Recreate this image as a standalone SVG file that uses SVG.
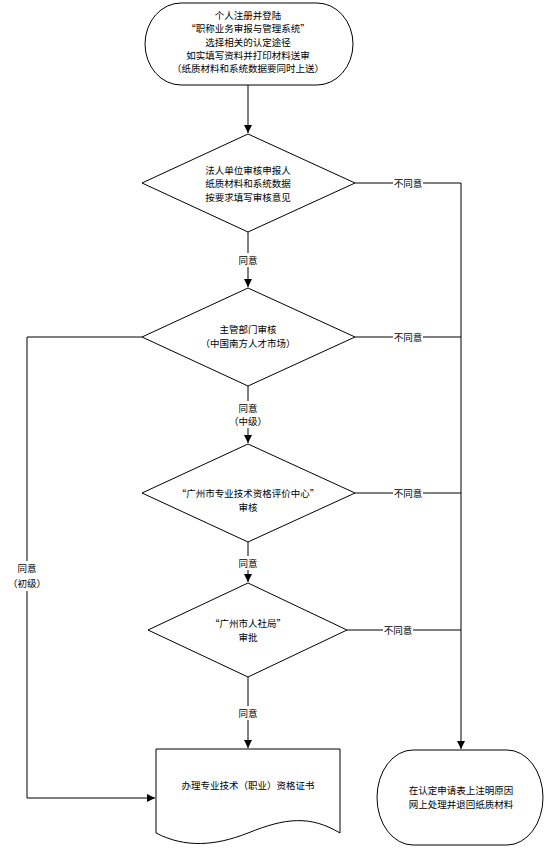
<svg xmlns="http://www.w3.org/2000/svg" width="554" height="853" viewBox="0 0 554 853">
<style>
.s{fill:#fff;stroke:#000;stroke-width:1}
.c{fill:none;stroke:#000;stroke-width:1}
text{font-family:"Noto Sans CJK SC","Noto Sans",sans-serif;font-size:9.5px;fill:#000;text-anchor:middle;dominant-baseline:central}
.lb{fill:#fff;stroke:none}
</style>
<defs>
<marker id="ah" markerWidth="8" markerHeight="8" refX="8" refY="4" orient="auto" markerUnits="userSpaceOnUse">
<path d="M0,0 L8,4 L0,8 Z" fill="#000"/>
</marker>
</defs>
<rect width="554" height="853" fill="#fff"/>
<g id="connectors">
<path class="c" d="M248,85 V133" marker-end="url(#ah)"/>
<path class="c" d="M248,232 V287" marker-end="url(#ah)"/>
<path class="c" d="M248,386 V443" marker-end="url(#ah)"/>
<path class="c" d="M248,542 V582" marker-end="url(#ah)"/>
<path class="c" d="M248,677 V748" marker-end="url(#ah)"/>
<path class="c" d="M142,337 H27 V798 H155" marker-end="url(#ah)"/>
<path class="c" d="M355,183 H461 V749" marker-end="url(#ah)"/>
<path class="c" d="M355,337 H461"/>
<path class="c" d="M355,493 H461"/>
<path class="c" d="M347,630 H461"/>
<rect class="lb" x="236" y="253" width="24" height="14"/>
<text x="248" y="260">同意</text>
<rect class="lb" x="228" y="401" width="40" height="27"/>
<text x="248" y="408">同意</text>
<text x="248" y="421">（中级）</text>
<rect class="lb" x="236" y="556" width="24" height="14"/>
<text x="248" y="563">同意</text>
<rect class="lb" x="236" y="706" width="24" height="14"/>
<text x="248" y="713">同意</text>
<rect class="lb" x="7" y="561" width="40" height="30"/>
<text x="27" y="568">同意</text>
<text x="27" y="583">（初级）</text>
<rect class="lb" x="393" y="176" width="30" height="14"/>
<text x="408" y="183">不同意</text>
<rect class="lb" x="393" y="330" width="30" height="14"/>
<text x="408" y="337">不同意</text>
<rect class="lb" x="393" y="486" width="30" height="14"/>
<text x="408" y="493">不同意</text>
<rect class="lb" x="383" y="623" width="30" height="14"/>
<text x="398" y="630">不同意</text>
</g>
<g id="start">
<path class="s" d="M181,3 H317 A36,41 0 0 1 317,85 H181 A36,41 0 0 1 181,3 Z"/>
<text x="248" y="15">个人注册并登陆</text>
<text x="248" y="28">“职称业务审报与管理系统”</text>
<text x="248" y="42">选择相关的认定途径</text>
<text x="248" y="55">如实填写资料并打印材料送审</text>
<text x="248" y="68">（纸质材料和系统数据要同时上送）</text>
</g>
<g id="d1">
<polygon class="s" points="248,134 355,183 248,232 142,183"/>
<text x="248" y="170">法人单位审核申报人</text>
<text x="248" y="183">纸质材料和系统数据</text>
<text x="248" y="197">按要求填写审核意见</text>
</g>
<g id="d2">
<polygon class="s" points="248,288 355,337 248,386 142,337"/>
<text x="248" y="329">主管部门审核</text>
<text x="248" y="343">（中国南方人才市场）</text>
</g>
<g id="d3">
<polygon class="s" points="248,444 355,493 248,542 142,493"/>
<text x="248" y="493">“广州市专业技术资格评价中心”</text>
<text x="248" y="507">审核</text>
</g>
<g id="d4">
<polygon class="s" points="248,583 347,630 248,677 148,630"/>
<text x="248" y="623">“广州市人社局”</text>
<text x="248" y="637">审批</text>
</g>
<g id="doc">
<path class="s" d="M156,749 H340 V833 C310,815 285,818 248,833 C215,846 185,848 156,833 Z"/>
<text x="248" y="785">办理专业技术（职业）资格证书</text>
</g>
<g id="end">
<path class="s" d="M413,750 H507 A36,47.5 0 0 1 507,845 H413 A36,47.5 0 0 1 413,750 Z"/>
<text x="461" y="790">在认定申请表上注明原因</text>
<text x="461" y="804">网上处理并退回纸质材料</text>
</g>
</svg>
